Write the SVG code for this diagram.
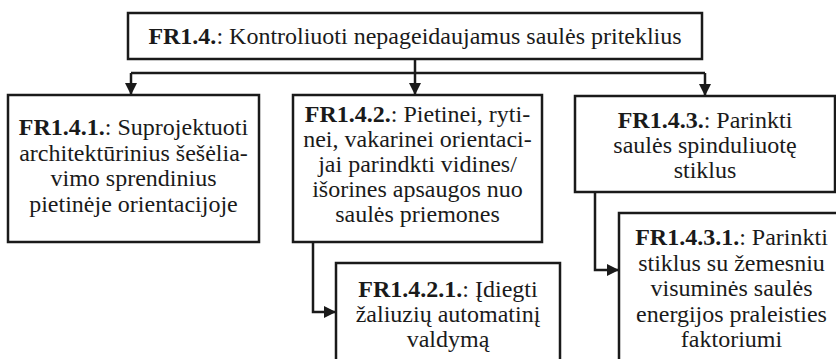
<svg xmlns="http://www.w3.org/2000/svg" width="836" height="359" viewBox="0 0 836 359">
  <style>
    .box { fill: #ffffff; stroke: #1a1a1a; stroke-width: 2.5; }
    .wire { fill: none; stroke: #1a1a1a; stroke-width: 2.5; }
    .lbl { font-family: 'Liberation Serif', 'DejaVu Serif', serif; font-size: 24px; fill: #1a1a1a; text-anchor: middle; }
    .id { font-weight: bold; }
  </style>
  <defs>
    <marker id="arrow" viewBox="0 0 12 12" refX="12" refY="6" markerWidth="12" markerHeight="12" markerUnits="userSpaceOnUse" orient="auto">
      <path d="M0,0 L12,6 L0,12 Z" fill="#1a1a1a"/>
    </marker>
  </defs>
  <rect width="836" height="359" fill="#ffffff"/>

  <g id="connectors">
    <path class="wire" d="M415,59 V73"/>
    <path class="wire" d="M131,73 H705"/>
    <path class="wire" d="M131,73 V95" marker-end="url(#arrow)"/>
    <path class="wire" d="M415,73 V95" marker-end="url(#arrow)"/>
    <path class="wire" d="M705,73 V96" marker-end="url(#arrow)"/>
    <path class="wire" d="M313,242 V312 H336" marker-end="url(#arrow)"/>
    <path class="wire" d="M595,192 V270 H619" marker-end="url(#arrow)"/>
  </g>

  <g id="fr14">
    <rect class="box" x="128" y="13" width="574" height="46"/>
    <text class="lbl" x="415" y="44"><tspan class="id">FR1.4.</tspan>: Kontroliuoti nepageidaujamus saulės priteklius</text>
  </g>

  <g id="fr141">
    <rect class="box" x="8" y="95" width="251" height="147"/>
    <text class="lbl" x="133.5" y="135"><tspan class="id">FR1.4.1.</tspan>: Suprojektuoti</text>
    <text class="lbl" x="133.5" y="160.5">architektūrinius šešėlia-</text>
    <text class="lbl" x="133.5" y="186">vimo sprendinius</text>
    <text class="lbl" x="133.5" y="211.5">pietinėje orientacijoje</text>
  </g>

  <g id="fr142">
    <rect class="box" x="293" y="95" width="249" height="147"/>
    <text class="lbl" x="417.5" y="122"><tspan class="id">FR1.4.2.</tspan>: Pietinei, ryti-</text>
    <text class="lbl" x="417.5" y="147">nei, vakarinei orientaci-</text>
    <text class="lbl" x="417.5" y="172">jai parindkti vidines/</text>
    <text class="lbl" x="417.5" y="197">išorines apsaugos nuo</text>
    <text class="lbl" x="417.5" y="222">saulės priemones</text>
  </g>

  <g id="fr143">
    <rect class="box" x="575" y="96" width="260" height="96"/>
    <text class="lbl" x="705" y="128"><tspan class="id">FR1.4.3.</tspan>: Parinkti</text>
    <text class="lbl" x="705" y="153">saulės spinduliuotę</text>
    <text class="lbl" x="705" y="178">stiklus</text>
  </g>

  <g id="fr1421">
    <rect class="box" x="336" y="263" width="224" height="110"/>
    <text class="lbl" x="448" y="297"><tspan class="id">FR1.4.2.1.</tspan>: Įdiegti</text>
    <text class="lbl" x="448" y="322">žaliuzių automatinį</text>
    <text class="lbl" x="448" y="347">valdymą</text>
  </g>

  <g id="fr1431">
    <rect class="box" x="619" y="213" width="226" height="160"/>
    <text class="lbl" x="731.5" y="245"><tspan class="id">FR1.4.3.1.</tspan>: Parinkti</text>
    <text class="lbl" x="731.5" y="270.5">stiklus su žemesniu</text>
    <text class="lbl" x="731.5" y="296">visuminės saulės</text>
    <text class="lbl" x="731.5" y="321.5">energijos praleisties</text>
    <text class="lbl" x="731.5" y="347">faktoriumi</text>
  </g>
</svg>
